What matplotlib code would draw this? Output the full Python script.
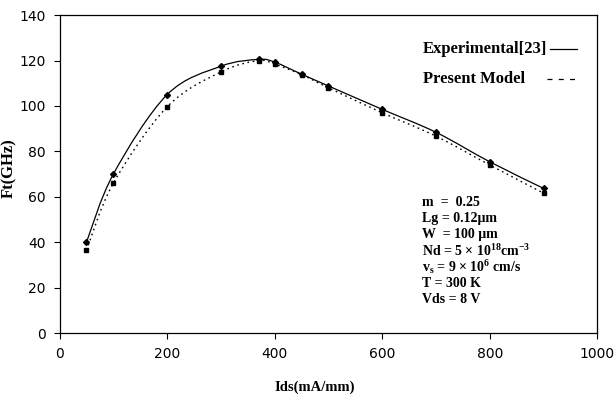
import matplotlib
matplotlib.use("Agg")
import matplotlib.pyplot as plt
from matplotlib.lines import Line2D
from matplotlib.path import Path
from matplotlib.patches import PathPatch

# Ft versus drain current
ids_exp = [50, 100, 200, 300, 370, 400, 450, 500, 600, 700, 800, 900]
ft_exp = [40, 70, 105, 117.5, 120.5, 119.3, 114, 108.8, 98.5, 88.4, 75.4, 63.7]

ids_model = [50, 100, 200, 300, 370, 400, 450, 500, 600, 700, 800, 900]
ft_model = [36.5, 66, 99.6, 115, 120, 118.4, 113.8, 108, 97, 86.7, 74, 61.6]

x_ticks = [0, 200, 400, 600, 800, 1000]
y_ticks = [0, 20, 40, 60, 80, 100, 120, 140]

params = [
    "m  =  0.25",
    "Lg = 0.12\u03bcm",
    "W  = 100 \u03bcm",
    "Nd = 5 \u00d7 10$^{18}$cm$^{-3}$",
    "v$_{s}$ = 9 \u00d7 10$^{6}$ cm/s",
    "T = 300 K",
    "Vds = 8 V",
]


def smooth_path(xs, ys):
    """Catmull-Rom style Bezier path through the points (spreadsheet smoothing)."""
    pts = list(zip(xs, ys))
    verts = [pts[0]]
    codes = [Path.MOVETO]
    n = len(pts)
    for i in range(n - 1):
        p0 = pts[max(i - 1, 0)]
        p1 = pts[i]
        p2 = pts[i + 1]
        p3 = pts[min(i + 2, n - 1)]
        c1 = (p1[0] + (p2[0] - p0[0]) / 6, p1[1] + (p2[1] - p0[1]) / 6)
        c2 = (p2[0] - (p3[0] - p1[0]) / 6, p2[1] - (p3[1] - p1[1]) / 6)
        verts += [c1, c2, p2]
        codes += [Path.CURVE4] * 3
    return Path(verts, codes)


plt.rcParams["mathtext.fontset"] = "custom"
plt.rcParams["mathtext.rm"] = "Liberation Serif:bold"
plt.rcParams["mathtext.it"] = "Liberation Serif:bold"
plt.rcParams["mathtext.bf"] = "Liberation Serif:bold"

serif = dict(family="Liberation Serif", weight="bold")
tick_font = ["Liberation Sans Narrow", "DejaVu Sans Condensed", "DejaVu Sans"]

fig = plt.figure(figsize=(6.14, 3.98), dpi=100)
ax = fig.add_axes([0.097, 0.163, 0.876, 0.799])

ax.add_patch(PathPatch(smooth_path(ids_exp, ft_exp), fill=False,
                       edgecolor="black", lw=0.9))
ax.add_patch(PathPatch(smooth_path(ids_model, ft_model), fill=False,
                       edgecolor="black", lw=1.0, ls=(0, (1.2, 2.6))))
ax.plot(ids_exp, ft_exp, ls="none", color="black", marker="D", ms=3)
ax.plot(ids_model, ft_model, ls="none", color="black", marker="s", ms=3.5)

ax.set_xlim(0, 1000)
ax.set_ylim(0, 140)
ax.set_xticks(x_ticks)
ax.set_yticks(y_ticks)
for lab in ax.get_xticklabels() + ax.get_yticklabels():
    lab.set_family(tick_font)
    lab.set_fontsize(10)
ax.tick_params(direction="out", length=4, width=0.8, pad=6)
for sp in ax.spines.values():
    sp.set_linewidth(0.9)

ax.set_xlabel("Ids(mA/mm)", fontsize=10.5, **serif)
ax.xaxis.set_label_coords(0.475, -0.15)
ax.set_ylabel("Ft(GHz)", fontsize=12, **serif)
ax.yaxis.set_label_coords(-0.079, 0.52)

# legend drawn as text with line samples to the right
ax.text(0.675, 0.895, "Experimental[23]", transform=ax.transAxes,
        fontsize=12, va="center", **serif)
ax.text(0.675, 0.80, "Present Model", transform=ax.transAxes,
        fontsize=12, va="center", **serif)
ax.add_line(Line2D([0.912, 0.962], [0.895, 0.895], transform=ax.transAxes,
                   color="black", lw=0.9))
ax.add_line(Line2D([0.907, 0.962], [0.80, 0.80], transform=ax.transAxes,
                   color="black", lw=0.9, ls=(0, (4, 5))))

# device parameters
y0 = 0.41
for i, line in enumerate(params):
    ax.text(0.673, y0 - i * 0.0505, line, transform=ax.transAxes,
            fontsize=10, va="center", **serif)

fig.savefig("out.png", dpi=100)
